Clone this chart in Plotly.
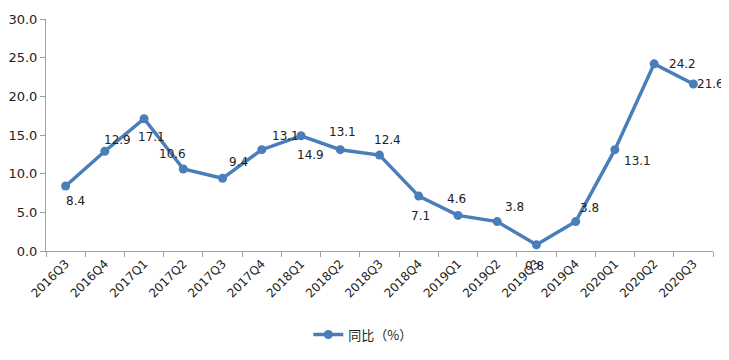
import plotly.graph_objects as go

quarters = ["2016Q3", "2016Q4", "2017Q1", "2017Q2", "2017Q3", "2017Q4", "2018Q1", "2018Q2",
            "2018Q3", "2018Q4", "2019Q1", "2019Q2", "2019Q3", "2019Q4", "2020Q1", "2020Q2", "2020Q3"]
yoy = [8.4, 12.9, 17.1, 10.6, 9.4, 13.1, 14.9, 13.1, 12.4, 7.1, 4.6, 3.8, 0.8, 3.8, 13.1, 24.2, 21.6]
series_name = "同比（%）"
y_ticks = [0, 5, 10, 15, 20, 25, 30]

# label offsets in pixels (style only)
label_dx = [10, 13, 7, -11, 16, 24, 9, 2, 8, 2, -1, 17, -2, 14, 23, 28, 17]
label_dy = [-15, 11, -18, 15, 16, 14, -19, 18, 15, -20, 16, 15, -21, 14, -11, 0, 0]

color = "#4a7ebb"
font = "DejaVu Sans, Verdana, sans-serif"

fig = go.Figure()
fig.add_trace(go.Scatter(
    x=quarters, y=yoy, name=series_name, mode="lines+markers",
    line=dict(color=color, width=3.5),
    marker=dict(color=color, size=9),
))

for q, v, dx, dy in zip(quarters, yoy, label_dx, label_dy):
    fig.add_annotation(x=q, y=v, text=f"{v:.1f}", showarrow=False,
                       xshift=dx, yshift=dy,
                       font=dict(family=font, size=12, color="#222"))

# page body has an 8px margin, so the figure is sized to compensate
fig.update_layout(
    width=721, height=352,
    margin=dict(l=38, r=16, t=11, b=105),
    paper_bgcolor="white", plot_bgcolor="white",
    font=dict(family=font, size=12, color="#222"),
    showlegend=True,
    legend=dict(orientation="h", x=0.475, xanchor="center", y=-0.36, yanchor="middle",
                font=dict(family="Noto Sans CJK SC, sans-serif", size=13, color="#222")),
)
fig.update_xaxes(
    type="category", range=[-0.5, 16.5], tickangle=-45, automargin=False,
    showline=True, linecolor="#a0a0a0", linewidth=1,
    ticks="outside", tickson="boundaries", ticklen=5, tickcolor="#a0a0a0",
    showgrid=False, zeroline=False, tickfont=dict(size=12),
)
fig.update_yaxes(
    range=[0, 30], tickvals=y_ticks, tickformat=".1f", automargin=False,
    showline=True, linecolor="#a0a0a0", linewidth=1,
    ticks="outside", ticklen=5, tickcolor="#a0a0a0",
    showgrid=False, zeroline=False, tickfont=dict(size=13),
)

fig.write_html("out.html")
